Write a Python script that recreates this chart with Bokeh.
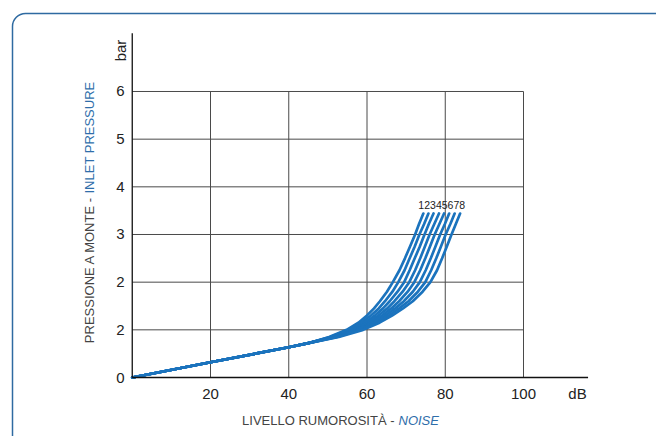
from bokeh.plotting import figure
from bokeh.models import Range1d, BoxAnnotation
from bokeh.core.properties import value
from bokeh.embed import file_html
from bokeh.resources import INLINE

# ---- data ----
x_ticks = [20, 40, 60, 80, 100]
x_tick_labels = ["20", "40", "60", "80", "100"]
y_ticks = [0, 1, 2, 3, 4, 5, 6]
y_tick_labels = ["0", "2", "2", "3", "4", "5", "6"]   # as printed on the original
x_unit = "dB"
y_unit = "bar"
x_title = ["LIVELLO RUMOROSITÀ -", "NOISE"]
y_title = ["PRESSIONE A MONTE -", "INLET PRESSURE"]

# common straight segment of all curves
base_db = [0, 20, 40, 45]
base_bar = [0, 0.32, 0.635, 0.72]

# pressure levels at which each curve's noise level was read
curve_bar = [0.85, 1.0, 1.15, 1.3, 1.45, 1.6, 1.8, 2.0, 2.25, 2.5, 2.75, 3.0, 3.22, 3.44]
curve1_db = [50.3, 54.8, 57.8, 60.0, 61.8, 63.3, 65.1, 66.6, 68.3, 69.7, 71.0, 72.3, 73.3, 74.4]
curve2_db = [50.6, 55.4, 58.6, 61.0, 63.0, 64.6, 66.5, 68.0, 69.6, 70.9, 72.2, 73.4, 74.6, 75.7]
curve3_db = [51.0, 56.0, 59.4, 62.0, 64.1, 65.8, 67.8, 69.5, 70.9, 72.2, 73.5, 74.7, 75.8, 77.0]
curve4_db = [51.3, 56.6, 60.2, 62.9, 65.2, 67.0, 69.1, 70.8, 72.3, 73.6, 74.8, 76.0, 77.2, 78.4]
curve5_db = [51.7, 57.2, 61.0, 63.8, 66.2, 68.2, 70.4, 72.1, 73.6, 74.9, 76.1, 77.3, 78.5, 79.7]
curve6_db = [52.0, 57.7, 61.7, 64.6, 67.2, 69.4, 71.7, 73.5, 75.0, 76.3, 77.5, 78.7, 79.9, 81.0]
curve7_db = [52.4, 58.3, 62.5, 65.5, 68.2, 70.6, 73.0, 74.9, 76.4, 77.7, 78.9, 80.1, 81.3, 82.4]
curve8_db = [52.8, 59.0, 63.2, 66.4, 69.2, 71.7, 74.2, 76.2, 77.9, 79.2, 80.4, 81.6, 82.7, 83.8]
curves_db = [curve1_db, curve2_db, curve3_db, curve4_db,
             curve5_db, curve6_db, curve7_db, curve8_db]
curve_names = "12345678"

x_axis_end = 116.5
y_axis_end = 7.22

# ---- styles ----
FONT = value("Liberation Sans")
BLUE_LINE = "#1b73bd"
BLUE_TXT = "#2f6eaa"
GRAY_TXT = "#444444"
TICK_TXT = "#222222"
GRID = "#4a4a4a"

W, H = 656, 436
PX_X, PX_Y = 3.9125, 47.667          # pixels per dB / per bar
ORIG_X, ORIG_Y = 131.75, 377.0        # pixel position of (0, 0)

p = figure(width=W, height=H, output_backend="svg", toolbar_location=None,
           x_range=Range1d(-ORIG_X / PX_X, (W - ORIG_X) / PX_X),
           y_range=Range1d(-(H - ORIG_Y) / PX_Y, ORIG_Y / PX_Y),
           x_axis_type=None, y_axis_type=None,
           min_border=0, min_border_left=0, min_border_right=0,
           min_border_top=0, min_border_bottom=0)
p.outline_line_color = None
p.background_fill_color = "white"
p.border_fill_color = "white"

def dx(px):
    return (px - ORIG_X) / PX_X

def dy(py):
    return (ORIG_Y - py) / PX_Y

# rounded frame (runs off the right and bottom edges)
frame = BoxAnnotation(left=dx(12), right=dx(900), top=dy(13), bottom=dy(700),
                      fill_alpha=0, line_color="#2e6aa1", line_alpha=1.0, line_width=1.5,
                      border_radius=13)
p.add_layout(frame)

# grid, limited to 0..100 / 0..6
n = len(y_ticks) - 1
p.segment(x0=[0] * n, y0=y_ticks[1:], x1=[x_ticks[-1]] * n, y1=y_ticks[1:],
          line_color=GRID, line_width=1)
p.segment(x0=x_ticks, y0=[0] * len(x_ticks), x1=x_ticks, y1=[y_ticks[-1]] * len(x_ticks),
          line_color=GRID, line_width=1)

# curves
for cd in curves_db:
    p.line(base_db + cd, base_bar + curve_bar, line_color=BLUE_LINE, line_width=2.7,
           line_join="round", line_cap="round")

p.text(x=[(curves_db[0][-1] + curves_db[-1][-1]) / 2], y=[curve_bar[-1] + 0.17],
       text=[curve_names], text_align="center", text_baseline="middle",
       text_font=FONT, text_font_size="10.5px", text_color=TICK_TXT)

# axis lines
p.segment(x0=[0, 0], y0=[0, 0], x1=[x_axis_end, 0], y1=[0, y_axis_end],
          line_color="#111111", line_width=1.3)

# tick labels
p.text(x=x_ticks + [113.8], y=[dy(393)] * (len(x_ticks) + 1), text=x_tick_labels + [x_unit],
       text_align="center", text_baseline="middle",
       text_font=FONT, text_font_size="15px", text_color=TICK_TXT)
p.text(x=[dx(124)] * len(y_ticks), y=y_ticks, text=y_tick_labels,
       text_align="right", text_baseline="middle",
       text_font=FONT, text_font_size="15px", text_color=TICK_TXT)
p.text(x=[dx(120)], y=[dy(50)], text=[y_unit], angle=1.5708,
       text_align="center", text_baseline="middle",
       text_font=FONT, text_font_size="15px", text_color=TICK_TXT)

# axis titles (two colours)
p.text(x=[dx(89)], y=[dy(196)], text=[y_title[0]], angle=1.5708,
       text_align="right", text_baseline="middle",
       text_font=FONT, text_font_size="13px", text_color=GRAY_TXT)
p.text(x=[dx(89)], y=[dy(193)], text=[y_title[1]], angle=1.5708,
       text_align="left", text_baseline="middle",
       text_font=FONT, text_font_size="13px", text_color=BLUE_TXT)
p.text(x=[dx(394)], y=[dy(420)], text=[x_title[0]],
       text_align="right", text_baseline="middle",
       text_font=FONT, text_font_size="13px", text_color=GRAY_TXT)
p.text(x=[dx(398)], y=[dy(420)], text=[x_title[1]], text_font_style="italic",
       text_align="left", text_baseline="middle",
       text_font=FONT, text_font_size="13px", text_color=BLUE_TXT)

open("out.html", "w").write(file_html(p, INLINE))
